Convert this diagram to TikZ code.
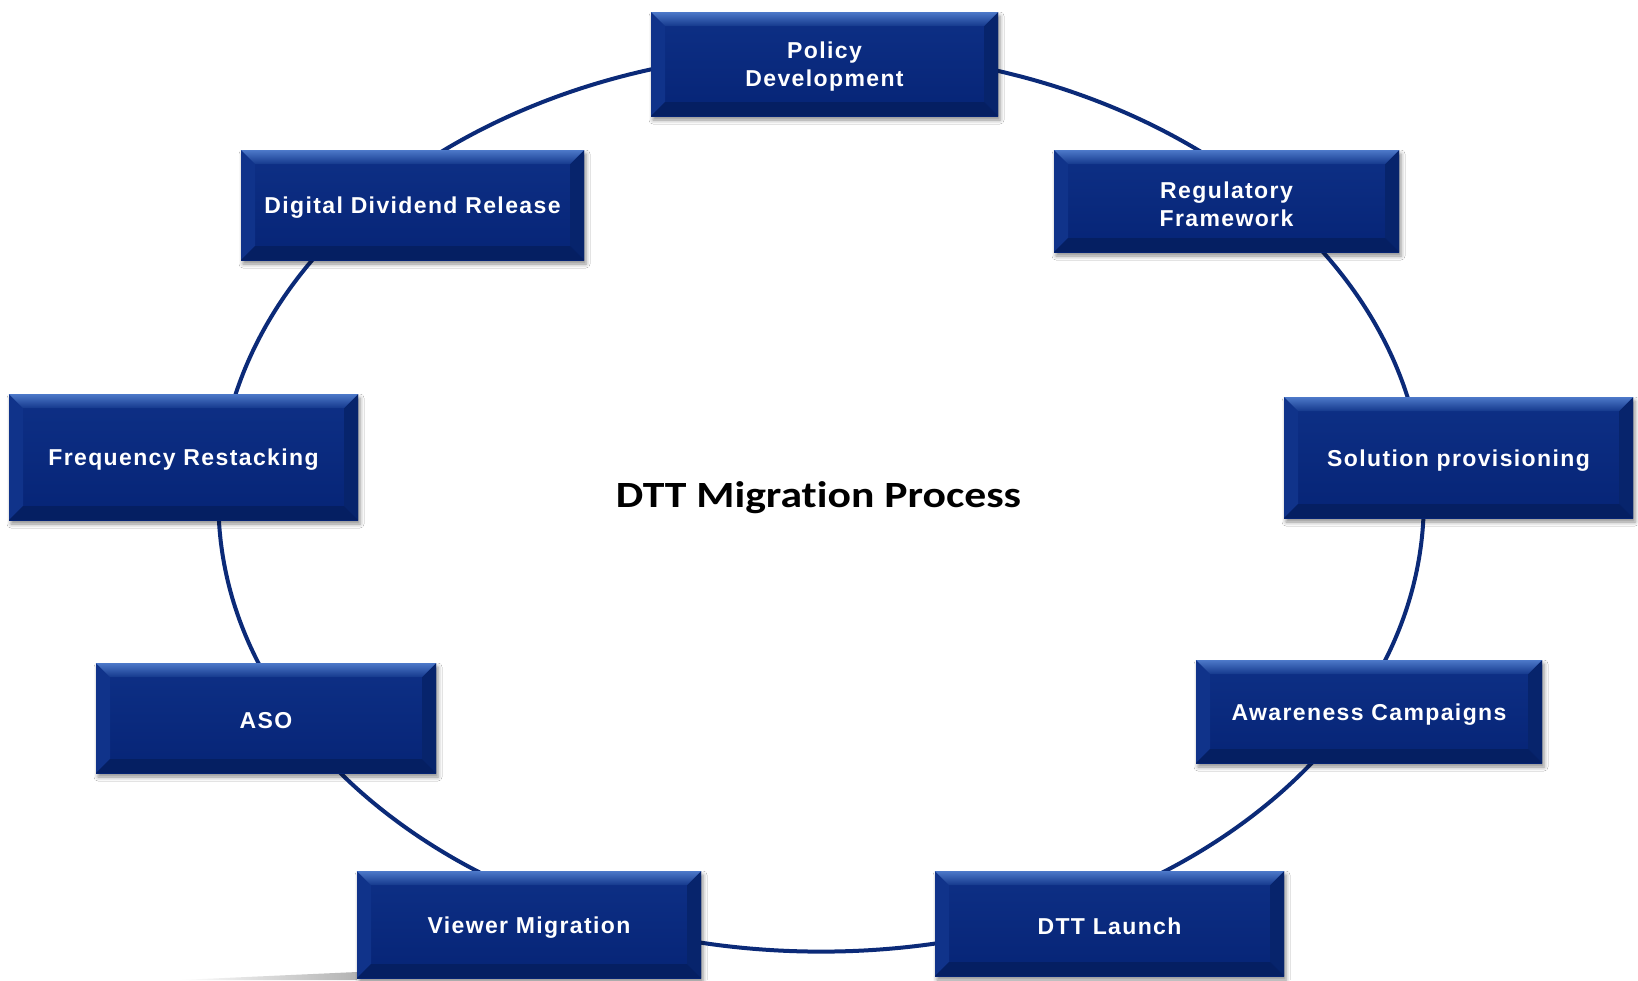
\documentclass[tikz,border=0pt]{standalone}
\usepackage{fontspec}
\setmainfont{Liberation Sans}
\newfontfamily\boxfont[LetterSpace=6]{Liberation Sans}
\newfontfamily\titlefont[Ligatures=NoCommon]{Carlito}
\usetikzlibrary{shadows.blur}

\definecolor{ringblue}{HTML}{0B2A78}
\definecolor{boxtop}{HTML}{0E3086}
\definecolor{boxbot}{HTML}{062476}
\definecolor{bevhi}{HTML}{4D79C9}
\definecolor{bevlo}{HTML}{15398D}
\definecolor{bevleft}{HTML}{10338A}
\definecolor{bevright}{HTML}{07246C}
\definecolor{bevbottom}{HTML}{051F62}

\tikzset{
  ring/.style={draw=ringblue, line width=4pt},
  stage/.style 2 args={
    rectangle, inner sep=0pt, minimum width=#1, minimum height=#2,
    top color=boxtop, bottom color=boxbot,
    blur shadow={shadow xshift=2pt, shadow yshift=-4pt,
      shadow blur radius=4pt, shadow opacity=45},
    path picture={
      \path (path picture bounding box.north west) coordinate (pNW)
            (path picture bounding box.north east) coordinate (pNE)
            (path picture bounding box.south west) coordinate (pSW)
            (path picture bounding box.south east) coordinate (pSE);
      % bevelled edges of the raised panel
      \fill[bevleft] (pNW) -- ([shift={(14pt,-14pt)}]pNW)
        -- ([shift={(14pt,14pt)}]pSW) -- (pSW) -- cycle;
      \fill[bevright] (pNE) -- ([shift={(-14pt,-14pt)}]pNE)
        -- ([shift={(-14pt,14pt)}]pSE) -- (pSE) -- cycle;
      \fill[bevbottom] (pSW) -- ([shift={(14pt,14pt)}]pSW)
        -- ([shift={(-14pt,14pt)}]pSE) -- (pSE) -- cycle;
      \shade[top color=bevhi, bottom color=bevlo] (pNW) -- (pNE)
        -- ([shift={(-14pt,-14pt)}]pNE) -- ([shift={(14pt,-14pt)}]pNW) -- cycle;
    }
  },
  stagetext/.style={text=white, align=center, inner sep=0pt,
    font=\boxfont\bfseries\fontsize{23}{28}\selectfont},
  heading/.style={font=\titlefont\bfseries\fontsize{37}{44}\selectfont,
    text=black, inner sep=0pt}
}

\newcommand\stagebox[5]{%
  \node[stage={#1}{#2}] (#3) at #4 {};
  \node[stagetext] (#3-text) at ([yshift=-3pt]#3.center) {#5};
}

\begin{document}
\begin{tikzpicture}[x=1pt, y=-1pt]
  \useasboundingbox[fill=white] (0,0) rectangle (1638,980);

  % faint floor reflection at the lower left
  \shade[left color=white, right color=black!30] (180,980) -- (357,972) -- (357,980) -- cycle;

  % the process cycle
  \coordinate (hub) at (821.1,501.4);
  \draw[ring] (hub) ellipse [x radius=602.7pt, y radius=450.2pt];

  % stages, clockwise from the top
  \stagebox{347pt}{104pt}{policy}{(824.5,64)}{Policy\\Development}
  \stagebox{345pt}{102pt}{regulatory}{(1226.5,201)}{Regulatory\\Framework}
  \stagebox{349pt}{121pt}{solution}{(1458.5,457.5)}{Solution provisioning}
  \stagebox{346pt}{103pt}{awareness}{(1369,711.5)}{Awareness Campaigns}
  \stagebox{349pt}{105pt}{launch}{(1109.5,923.5)}{DTT Launch}
  \stagebox{344pt}{107pt}{viewer}{(529,924.5)}{Viewer Migration}
  \stagebox{340pt}{110pt}{aso}{(266,718)}{ASO}
  \stagebox{349pt}{126pt}{restack}{(183.5,457)}{Frequency Restacking}
  \stagebox{343pt}{110pt}{dividend}{(412.5,205)}{Digital Dividend Release}

  \node[heading, anchor=base] (title) at (818.5,507)
    {\scalebox{1.18}[1]{DTT Migration Process}};
\end{tikzpicture}
\end{document}
